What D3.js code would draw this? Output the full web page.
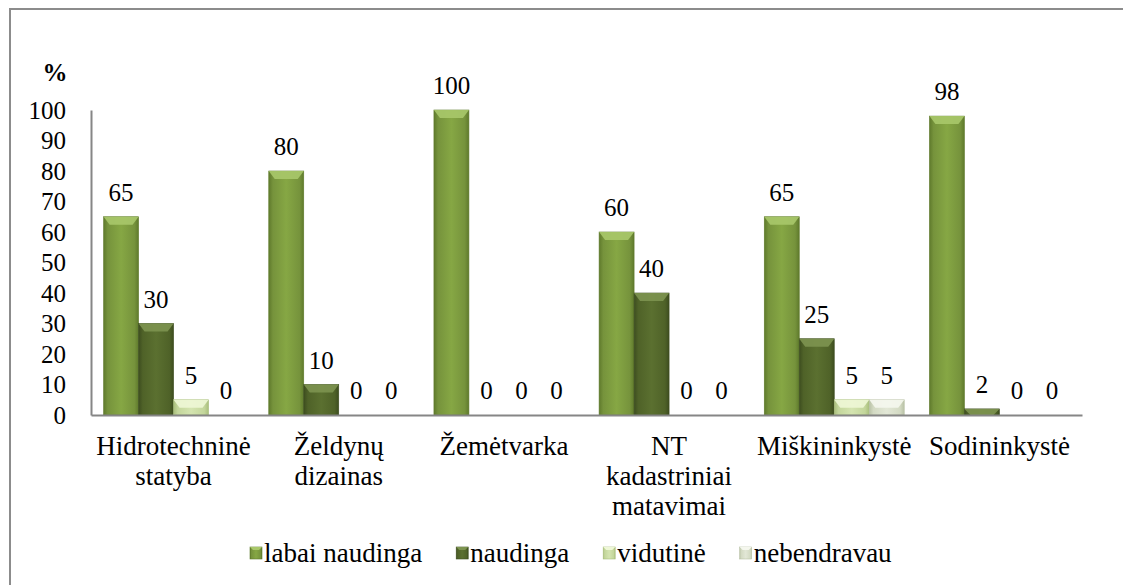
<!DOCTYPE html>
<html>
<head>
<meta charset="utf-8">
<script src="https://cdn.jsdelivr.net/npm/d3@7"></script>
<style>
  body { margin: 0; background: #fff; }
  svg text { fill: #000; }
</style>
</head>
<body>
<div id="chart"></div>
<script>
// data
var categories = ["Hidrotechninė statyba", "Želdynų dizainas", "Žemėtvarka", "NT kadastriniai matavimai", "Miškininkystė", "Sodininkystė"];
var categoryLines = [["Hidrotechninė", "statyba"], ["Želdynų", "dizainas"], ["Žemėtvarka"], ["NT", "kadastriniai", "matavimai"], ["Miškininkystė"], ["Sodininkystė"]];
var seriesNames = ["labai naudinga", "naudinga", "vidutinė", "nebendravau"];
var labaiNaudinga = [65, 80, 100, 60, 65, 98];
var naudinga = [30, 10, 0, 40, 25, 2];
var vidutine = [5, 0, 0, 0, 5, 0];
var nebendravau = [0, 0, 0, 0, 5, 0];
var yTicks = [0, 10, 20, 30, 40, 50, 60, 70, 80, 90, 100];

var seriesValues = [labaiNaudinga, naudinga, vidutine, nebendravau];

// colours: [edge, body, centre, bevel top]
var palette = [
  ["#5f7a2c", "#76933c", "#86a744", "#a9c86a"],
  ["#3d4d1f", "#4f6228", "#5b7030", "#7d9450"],
  ["#a9be7c", "#c3d69b", "#d4e4b0", "#eef7d6"],
  ["#b9c2a6", "#d3dac3", "#e2e7d6", "#f5f7ee"]
];

var W = 1123, H = 585;
var x0Left = 91, x0Right = 1082, yBase = 415, yTop = 110;
var serif = "'Liberation Serif', Tinos, 'Times New Roman', 'DejaVu Serif', serif";

var svg = d3.select("#chart").append("svg")
    .attr("width", W)
    .attr("height", H);

var defs = svg.append("defs");
palette.forEach(function(c, i) {
  var g = defs.append("linearGradient")
    .attr("id", "grad" + i)
    .attr("x1", "0%").attr("x2", "100%")
    .attr("y1", "0%").attr("y2", "0%");
  g.append("stop").attr("offset", "0%").attr("stop-color", c[0]);
  g.append("stop").attr("offset", "12%").attr("stop-color", c[1]);
  g.append("stop").attr("offset", "50%").attr("stop-color", c[2]);
  g.append("stop").attr("offset", "88%").attr("stop-color", c[1]);
  g.append("stop").attr("offset", "100%").attr("stop-color", c[0]);
});

// outer frame
svg.append("rect")
  .attr("x", 10).attr("y", 9)
  .attr("width", 1125).attr("height", 590)
  .attr("fill", "none")
  .attr("stroke", "#8c8c8c")
  .attr("stroke-width", 2);

var x0 = d3.scaleBand()
  .domain(categories)
  .range([x0Left, x0Right])
  .padding(0);

var x1 = d3.scaleBand()
  .domain(seriesNames)
  .range([0, x0.bandwidth()])
  .paddingInner(0)
  .paddingOuter(0.36);

var y = d3.scaleLinear()
  .domain([0, 100])
  .range([yBase, yTop]);

// y axis
var yAxis = d3.axisLeft(y).tickValues(yTicks).tickSize(0).tickPadding(25);
var gy = svg.append("g")
  .attr("transform", "translate(" + x0Left + ",0)")
  .call(yAxis)
  .attr("font-family", serif)
  .attr("font-size", 25);
gy.select(".domain").attr("stroke", "#868686").attr("stroke-width", 2);
gy.selectAll("text").attr("fill", "#000");

svg.append("text")
  .attr("x", 55).attr("y", 81)
  .attr("text-anchor", "middle")
  .attr("font-family", serif)
  .attr("font-size", 25)
  .attr("font-weight", "bold")
  .text("%");

// bars
var flat = [];
categories.forEach(function(cat, ci) {
  seriesNames.forEach(function(s, si) {
    flat.push({cat: cat, series: s, si: si, value: seriesValues[si][ci]});
  });
});

var groups = svg.append("g").selectAll("g.bar")
  .data(flat)
  .enter().append("g")
  .attr("class", "bar");

groups.each(function(d) {
  var g = d3.select(this);
  var bx = x0(d.cat) + x1(d.series);
  var bw = x1.bandwidth();
  var top = y(d.value);
  var h = yBase - top;
  if (h <= 0) return;
  g.append("rect")
    .attr("x", bx).attr("y", top)
    .attr("width", bw).attr("height", h)
    .attr("fill", "url(#grad" + d.si + ")")
    .attr("stroke", palette[d.si][0])
    .attr("stroke-width", 0.6);
  var bev = Math.min(8, h);
  g.append("path")
    .attr("d", "M" + bx + "," + top + "L" + (bx + bw) + "," + top +
      "L" + (bx + bw - 6) + "," + (top + bev) + "L" + (bx + 6) + "," + (top + bev) + "Z")
    .attr("fill", palette[d.si][3])
    .attr("opacity", 0.9);
});

// value labels
svg.append("g")
  .attr("font-family", serif)
  .attr("font-size", 25)
  .selectAll("text")
  .data(flat)
  .enter().append("text")
  .attr("x", function(d) { return x0(d.cat) + x1(d.series) + x1.bandwidth() / 2; })
  .attr("y", function(d) { return y(d.value) - 16; })
  .attr("text-anchor", "middle")
  .text(function(d) { return d.value; });

// x axis
var xAxis = d3.axisBottom(x0).tickSize(0).tickFormat("");
var gx = svg.append("g")
  .attr("transform", "translate(0," + yBase + ")")
  .call(xAxis);
gx.select(".domain").attr("stroke", "#868686").attr("stroke-width", 2);

svg.append("g")
  .attr("font-family", serif)
  .attr("font-size", 27)
  .selectAll("text")
  .data(categories)
  .enter().append("text")
  .attr("x", function(d) { return x0(d) + x0.bandwidth() / 2; })
  .attr("y", yBase + 40)
  .attr("text-anchor", "middle")
  .each(function(d, i) {
    var t = d3.select(this);
    categoryLines[i].forEach(function(line, li) {
      t.append("tspan")
        .attr("x", x0(d) + x0.bandwidth() / 2)
        .attr("dy", li === 0 ? 0 : 30)
        .text(line);
    });
  });

// legend
var legend = svg.append("g")
  .attr("font-family", serif)
  .attr("font-size", 27);
var lx = 250;
seriesNames.forEach(function(name, i) {
  var item = legend.append("g");
  item.append("rect")
    .attr("x", lx).attr("y", 547)
    .attr("width", 12).attr("height", 12)
    .attr("fill", "url(#grad" + i + ")")
    .attr("stroke", palette[i][0])
    .attr("stroke-width", 0.6);
  item.append("path")
    .attr("d", "M" + lx + ",547L" + (lx + 12) + ",547L" + (lx + 9) + ",550L" + (lx + 3) + ",550Z")
    .attr("fill", palette[i][3]);
  var t = item.append("text")
    .attr("x", lx + 14).attr("y", 562)
    .text(name);
  lx = lx + 14 + t.node().getComputedTextLength() + 34;
});
</script>
</body>
</html>
